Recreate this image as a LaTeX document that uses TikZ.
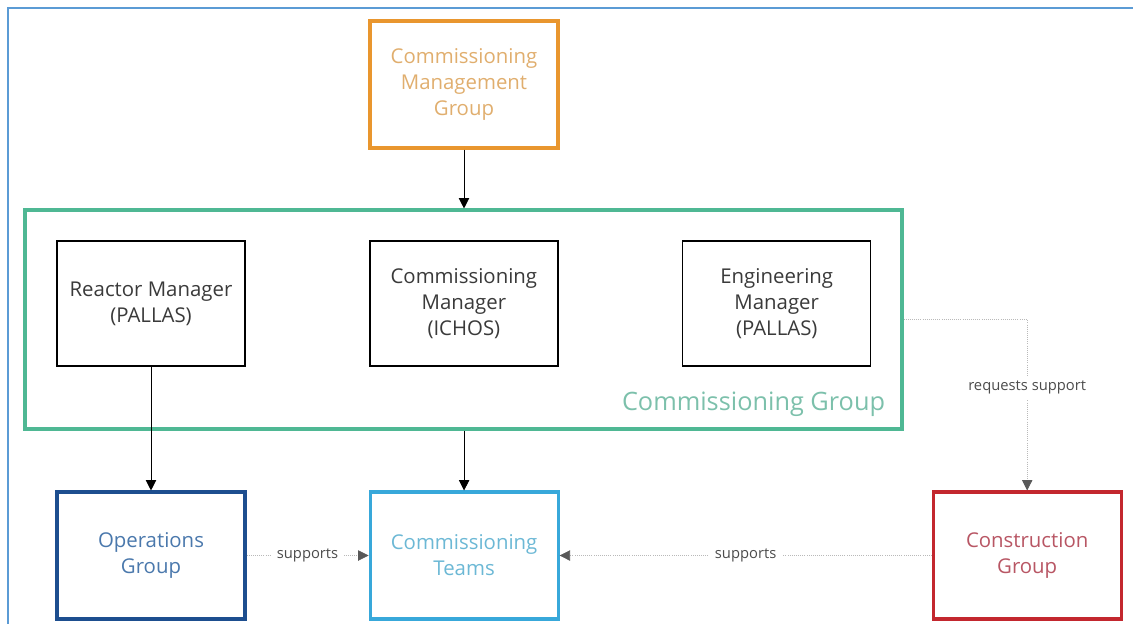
\documentclass[tikz,border=0pt]{standalone}
\usepackage{fontspec}
\setmainfont{Open Sans}
\usetikzlibrary{arrows.meta,positioning}
\definecolor{frameblue}{HTML}{5B9BD5}
\definecolor{cmgorange}{HTML}{E9962E}
\definecolor{cmgtext}{HTML}{E0AE6E}
\definecolor{grpgreen}{HTML}{4FB894}
\definecolor{grptext}{HTML}{7CC0AB}
\definecolor{opsblue}{HTML}{1D4E8F}
\definecolor{opstext}{HTML}{4A78AC}
\definecolor{teamblue}{HTML}{38A8DA}
\definecolor{teamtext}{HTML}{6CB8D5}
\definecolor{consred}{HTML}{C3272E}
\definecolor{constext}{HTML}{B85664}
\definecolor{mgrtext}{HTML}{3A3A3A}

\begin{document}
\begin{tikzpicture}[
    box/.style={draw, line width=2.2pt, align=center, minimum width=4.7cm, minimum height=3.175cm,
        font=\fontsize{14.5}{18.5}\selectfont},
    mgr/.style={draw, line width=0.9pt, align=center, minimum width=4.7cm, minimum height=3.125cm,
        text=mgrtext, font=\fontsize{14.5}{18.5}\selectfont},
    link/.style={-{Triangle[length=2.6mm,width=2.6mm]}, line width=0.6pt},
    help/.style={-{Triangle[length=2.6mm,width=2.6mm,color=black!65]}, gray!55, densely dotted, line width=0.5pt},
    tag/.style={fill=white, text=black!70, font=\fontsize{10.5}{12}\selectfont, inner sep=4pt}
]
\useasboundingbox (0,0) rectangle (28.325,-15.575);
\draw[frameblue, line width=1.6pt] (0.2,-15.8) -- (0.2,-0.2) -- (28.6,-0.2);

% commissioning group frame
\node[draw=grpgreen, line width=2.2pt, minimum width=21.925cm, minimum height=5.475cm] (cgrp) at (11.5875,-7.9875) {};
\node[anchor=east, text=grptext, font=\fontsize{18}{22}\selectfont] (cgrplabel) at (22.25,-10.1) {Commissioning Group};

% managers
\node[mgr] (rmgr) at (3.775,-7.5875) {Reactor Manager\\(PALLAS)};
\node[mgr, right=3.09cm of rmgr] (cmgr) {Commissioning\\Manager\\(ICHOS)};
\node[mgr, right=3.09cm of cmgr] (emgr) {Engineering\\Manager\\(PALLAS)};

% groups
\node[box, draw=cmgorange, text=cmgtext] (cmg) at (11.6,-2.1125) {Commissioning\\Management\\Group};
\node[box, draw=opsblue, text=opstext] (ops) at (3.775,-13.8875) {Operations\\Group};
\node[box, draw=teamblue, text=teamtext, right=3.05cm of ops] (teams) {Commissioning\\Teams};
\node[box, draw=consred, text=constext, right=9.3cm of teams] (cons) {Construction\\Group};

\draw[link] (cmg.south) -- (cmg.south |- cgrp.north);
\draw[link] (rmgr) -- (ops);
\draw[link] (cgrp.south -| teams.north) -- (teams.north);
\draw[help] (cgrp.east) -| node[tag, pos=0.7] {requests support} (cons.north);
\draw[help] (ops) -- node[tag] {supports} (teams);
\draw[help] (cons) -- node[tag] {supports} (teams);
\end{tikzpicture}
\end{document}
